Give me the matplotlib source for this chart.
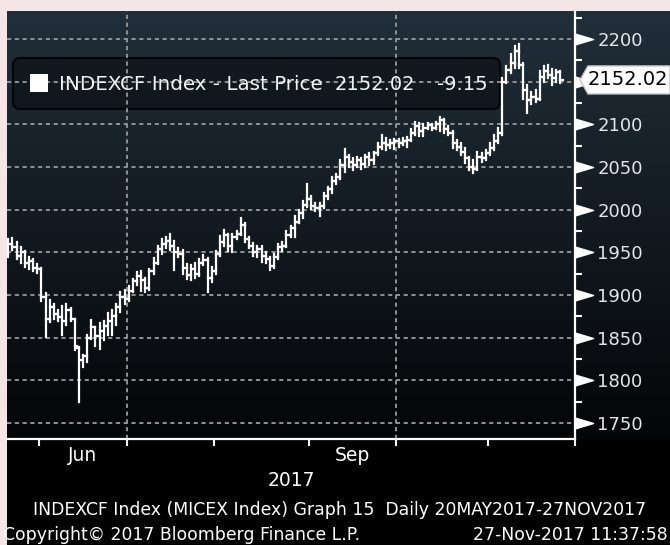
import numpy as np
import pandas as pd
import matplotlib
matplotlib.use("Agg")
import matplotlib.pyplot as plt
from matplotlib.collections import LineCollection
from matplotlib.patches import FancyBboxPatch, Polygon, Rectangle
from matplotlib.path import Path
import matplotlib.transforms as mtransforms

plt.rcParams['font.family'] = ['DejaVu Sans']
plt.rcParams['lines.scale_dashes'] = False

W, H = 670, 545

# ---------------- data ----------------
holidays = ["2017-06-12", "2017-11-06"]
opens = [1948, 1960, 1956, 1946, 1950, 1937, 1940, 1932, 1930, 1898,
         1872, 1886, 1878, 1874, 1870, 1882, 1872, 1838, 1824, 1828,
         1850, 1862, 1852, 1858, 1864, 1870, 1876, 1886, 1898, 1895,
         1905, 1916, 1922, 1918, 1908, 1928, 1938, 1954, 1960, 1963,
         1958, 1950, 1948, 1932, 1924, 1930, 1925, 1938, 1941, 1920,
         1928, 1948, 1962, 1970, 1958, 1968, 1972, 1982, 1966, 1958,
         1950, 1954, 1946, 1942, 1934, 1944, 1956, 1958, 1970, 1978,
         1986, 1996, 2005, 2012, 2004, 2002, 2004, 2016, 2024, 2034,
         2038, 2052, 2062, 2056, 2052, 2058, 2054, 2062, 2058, 2066,
         2074, 2078, 2076, 2078, 2080, 2078, 2080, 2082, 2090, 2098,
         2092, 2096, 2099, 2096, 2100, 2105, 2094, 2090, 2078, 2074,
         2068, 2060, 2050, 2048, 2062, 2060, 2066, 2072, 2080, 2090,
         2150, 2164, 2172, 2186, 2170, 2140, 2128, 2132, 2130, 2155,
         2162, 2158, 2154, 2161.17]
highs = [1966, 1967, 1962, 1956, 1952, 1944, 1942, 1936, 1932, 1902,
         1894, 1890, 1882, 1887, 1889, 1885, 1872, 1839, 1830, 1853,
         1871, 1863, 1867, 1869, 1879, 1882, 1890, 1904, 1906, 1910,
         1919, 1927, 1928, 1920, 1931, 1943, 1957, 1966, 1968, 1972,
         1963, 1955, 1953, 1936, 1935, 1937, 1942, 1947, 1943, 1933,
         1952, 1969, 1976, 1972, 1972, 1975, 1990, 1984, 1968, 1961,
         1958, 1957, 1950, 1944, 1948, 1960, 1962, 1975, 1981, 1993,
         2000, 2010, 2030, 2016, 2008, 2008, 2019, 2027, 2038, 2042,
         2058, 2071, 2064, 2060, 2062, 2060, 2064, 2066, 2068, 2078,
         2088, 2084, 2082, 2083, 2083, 2084, 2085, 2094, 2103, 2101,
         2100, 2102, 2100, 2103, 2109, 2106, 2098, 2092, 2082, 2078,
         2072, 2062, 2058, 2068, 2066, 2070, 2078, 2088, 2096, 2154,
         2168, 2182, 2192, 2194, 2172, 2146, 2138, 2140, 2162, 2168,
         2170, 2165, 2164, 2163]
lows = [1944, 1953, 1942, 1938, 1933, 1930, 1928, 1926, 1893, 1851,
        1868, 1872, 1869, 1853, 1865, 1869, 1836, 1775, 1816, 1822,
        1848, 1840, 1837, 1847, 1853, 1853, 1865, 1880, 1890, 1893,
        1903, 1912, 1905, 1903, 1906, 1925, 1936, 1948, 1955, 1953,
        1929, 1944, 1925, 1919, 1918, 1920, 1922, 1935, 1903, 1915,
        1925, 1946, 1958, 1951, 1950, 1966, 1970, 1962, 1955, 1946,
        1945, 1939, 1938, 1929, 1932, 1942, 1952, 1956, 1968, 1968,
        1984, 1990, 2003, 2001, 1998, 1993, 2002, 2013, 2020, 2030,
        2036, 2044, 2050, 2046, 2050, 2048, 2050, 2052, 2054, 2064,
        2071, 2070, 2072, 2071, 2074, 2076, 2074, 2080, 2088, 2086,
        2086, 2094, 2093, 2094, 2092, 2090, 2088, 2072, 2070, 2064,
        2055, 2046, 2043, 2046, 2056, 2058, 2064, 2070, 2078, 2088,
        2148, 2160, 2166, 2166, 2130, 2113, 2124, 2126, 2128, 2150,
        2154, 2146, 2150, 2148]
closes = [1960, 1956, 1946, 1950, 1937, 1940, 1932, 1930, 1898, 1872,
          1886, 1878, 1874, 1870, 1882, 1872, 1840, 1824, 1828, 1850,
          1862, 1852, 1858, 1864, 1870, 1876, 1886, 1898, 1895, 1905,
          1916, 1922, 1918, 1908, 1928, 1938, 1954, 1960, 1963, 1958,
          1950, 1948, 1932, 1924, 1930, 1925, 1938, 1941, 1920, 1928,
          1948, 1962, 1970, 1958, 1968, 1972, 1982, 1966, 1958, 1950,
          1954, 1946, 1942, 1934, 1944, 1956, 1958, 1970, 1978, 1986,
          1996, 2005, 2012, 2004, 2002, 2004, 2016, 2024, 2034, 2038,
          2052, 2062, 2056, 2052, 2058, 2054, 2062, 2058, 2066, 2074,
          2078, 2076, 2078, 2080, 2078, 2080, 2082, 2090, 2098, 2092,
          2096, 2099, 2096, 2100, 2105, 2094, 2090, 2078, 2074, 2068,
          2060, 2050, 2048, 2062, 2060, 2066, 2072, 2080, 2090, 2150,
          2164, 2172, 2186, 2170, 2140, 2128, 2132, 2130, 2155, 2162,
          2158, 2154, 2161.17, 2152.02]
yticks = [1750, 1800, 1850, 1900, 1950, 2000, 2050, 2100, 2150, 2200]
ytick_labels = ["1750", "1800", "1850", "1900", "1950", "2000", "2050", "2100", "", "2200"]
x_labels = ["Jun", "Sep"]
last_price = "2152.02"
change = "-9.15"

# trading calendar (business days without the two holidays), extended to 1 Dec
cal = pd.bdate_range("2017-05-22", "2017-12-01")
cal = cal[~cal.isin(pd.to_datetime(holidays))]
n = len(closes)
month_first = [i for i in range(1, len(cal)) if cal[i].month != cal[i - 1].month]
month_names = [cal[i].strftime("%b") for i in month_first]

# ---------------- figure / background ----------------
fig = plt.figure(figsize=(W / 100, H / 100), dpi=100)
fig.patch.set_facecolor('#f6e5e5')

top_c = np.array([33, 47, 58]) / 255
bot_c = np.array([4, 5, 7]) / 255
ph = H - 11
grad_h = 439 - 11
bg = np.zeros((ph, W - 7, 3))
t = np.linspace(0, 1, grad_h)[:, None]
bg[:grad_h] = (top_c * (1 - t) + bot_c * t)[:, None, :]
fig.figimage(bg, xo=7, yo=0, origin='upper', zorder=-5)

ax = fig.add_axes([7 / W, (H - 439) / H, 568 / W, 428 / H])
ax.set_facecolor('none')
ax.set_xlim(-0.3, 136.5)
ax.set_ylim(1731.3, 2232.8)

# grid
gcol = '#8f9295'
for y in yticks:
    ax.axhline(y, color=gcol, lw=1.4, dashes=(3, 2.6), zorder=1)
for i, m in zip(month_first, month_names):
    if m in ("Jul", "Oct"):
        ax.axvline(i - 0.5, color=gcol, lw=1.4, dashes=(3, 2.6), zorder=1)

# legend box
box = FancyBboxPatch((13, H - 109), 487, 51, boxstyle='round,pad=0,rounding_size=7',
                     transform=mtransforms.IdentityTransform(),
                     facecolor=(0, 0, 0, 0.38), edgecolor=(0, 0, 0, 0.85), lw=1.5, zorder=0.5)
ax.add_patch(box)

# OHLC bars
segs = []
for i in range(n):
    segs.append([(i, lows[i]), (i, highs[i])])
    segs.append([(i - 0.5, opens[i]), (i, opens[i])])
    segs.append([(i, closes[i]), (i + 0.5, closes[i])])
ax.add_collection(LineCollection(segs, colors='white', linewidths=1.6, zorder=3,
                                 capstyle='projecting'))

# spines
for s in ('top', 'left'):
    ax.spines[s].set_visible(False)
for s in ('right', 'bottom'):
    ax.spines[s].set_color('white')
    ax.spines[s].set_linewidth(1.6)

# y axis on the right
ax.yaxis.tick_right()
ax.set_yticks(yticks)
ax.set_yticklabels(ytick_labels)
ax.set_yticks([y + 25 for y in yticks[:-1]] + [2225], minor=True)
ax.tick_params(axis='y', which='major', length=0, pad=16, labelsize=13,
               labelcolor='#e2e6ea')
ax.tick_params(axis='y', which='minor', length=5, width=1.5, color='white', direction='out')

tri = Path([(0, -0.3), (0, 0.3), (1, 0), (0, -0.3)],
           [Path.MOVETO, Path.LINETO, Path.LINETO, Path.CLOSEPOLY])
ax.plot([1.0] * len(yticks), yticks, transform=ax.get_yaxis_transform(),
        marker=tri, ms=26, color='white', ls='none', clip_on=False, zorder=5)

# x axis
ax.set_xticks([i - 0.5 for i in month_first])
ax.set_xticklabels([])
ax.tick_params(axis='x', which='major', length=5, width=1.5, color='white', direction='out')
mids = []
for lab in x_labels:
    k = month_names.index(lab)
    a = month_first[k] - 0.5
    b = month_first[k + 1] - 0.5
    mids.append((a + b) / 2)
ax.set_xticks(mids, minor=True)
ax.set_xticklabels(x_labels, minor=True)
ax.tick_params(axis='x', which='minor', length=0, pad=5, labelsize=13.5, labelcolor='white')

# price tag on the right axis
ypix = ax.transData.transform((0, float(last_price)))[1]
tag = Polygon([(580, ypix), (588, ypix + 14), (670, ypix + 14), (670, ypix - 14),
               (588, ypix - 14)], closed=True, transform=mtransforms.IdentityTransform(),
              facecolor='white', edgecolor='#c8c8c8', lw=1, zorder=10)
fig.add_artist(tag)
fig.text(628 / W, ypix / H, last_price, ha='center', va='center', fontsize=14,
         color='black', zorder=11)

# legend contents
fig.add_artist(Rectangle((30, H - 92), 18, 18, transform=mtransforms.IdentityTransform(),
                         facecolor='white', edgecolor='none', zorder=10))
fig.text(59 / W, 1 - 84 / H, "INDEXCF Index - Last Price", ha='left', va='center',
         fontsize=14.3, color='#f0f2f4')
fig.text(415 / W, 1 - 84 / H, last_price, ha='right', va='center', fontsize=14, color='#f0f2f4')
fig.text(488 / W, 1 - 84 / H, change, ha='right', va='center', fontsize=14, color='#f0f2f4')

# bottom texts
fig.text(291 / W, 1 - 480 / H, "2017", ha='center', va='center', fontsize=13.5, color='white')
fig.text(340 / W, 1 - 510 / H,
         "INDEXCF Index (MICEX Index) Graph 15  Daily 20MAY2017-27NOV2017",
         ha='center', va='center', fontsize=12.4, color='white')
fig.text(3 / W, 1 - 535 / H, "Copyright\u00a9 2017 Bloomberg Finance L.P.", ha='left',
         va='center', fontsize=12.4, color='white')
fig.text(668 / W, 1 - 535 / H, "27-Nov-2017 11:37:58", ha='right', va='center',
         fontsize=12.4, color='white')

fig.savefig("out.png", dpi=100, facecolor=fig.get_facecolor())
